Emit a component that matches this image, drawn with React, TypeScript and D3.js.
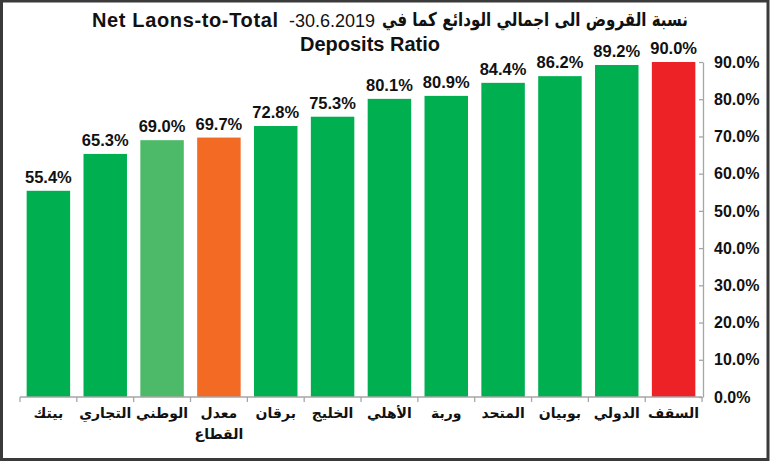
import { useEffect, useRef } from 'react'
import * as d3 from 'd3'

const banks = ['بيتك', 'التجاري', 'الوطني', 'معدل|القطاع', 'برقان', 'الخليج', 'الأهلي', 'وربة', 'المتحد', 'بوبيان', 'الدولي', 'السقف']
const ratios = [55.4, 65.3, 69.0, 69.7, 72.8, 75.3, 80.1, 80.9, 84.4, 86.2, 89.2, 90.0]
const barColors = ['#00b050', '#00b050', '#4dba69', '#f26a24', '#00b050', '#00b050', '#00b050', '#00b050', '#00b050', '#00b050', '#00b050', '#ed2227']
const yTicks = [0, 10, 20, 30, 40, 50, 60, 70, 80, 90]

const W = 770
const H = 462

export default function App() {
  const svgRef = useRef<SVGSVGElement>(null)

  useEffect(() => {
    if (!svgRef.current) return
    const svg = d3.select(svgRef.current)
    svg.selectAll('*').remove()

    const margin = { top: 62, right: 68, bottom: 65, left: 20 }
    const x = d3
      .scaleBand()
      .domain(banks)
      .range([margin.left, W - margin.right])
      .paddingInner(0.235)
      .paddingOuter(0.117)
    const y = d3.scaleLinear().domain([0, 90]).range([H - margin.bottom, margin.top])

    svg.append('rect').attr('width', W).attr('height', H).attr('fill', '#fff')

    // title
    const title = svg.append('g').attr('font-family', 'Liberation Sans, Arial, sans-serif').attr('fill', '#111')
    title.append('text').attr('x', 92).attr('y', 27).attr('font-size', 20).attr('font-weight', 'bold')
      .attr('textLength', 186).text('Net Laons-to-Total')
    title.append('text').attr('x', 289).attr('y', 27).attr('font-size', 18)
      .text('-30.6.2019')
    title.append('text').attr('x', 688).attr('y', 26).attr('font-size', 19).attr('font-weight', 'bold')
      .attr('text-anchor', 'end')
      .attr('font-family', 'DejaVu Sans, sans-serif')
      .attr('textLength', 306).attr('lengthAdjust', 'spacingAndGlyphs')
      .text('نسبة القروض الى اجمالي الودائع كما في')
    title.append('text').attr('x', 370).attr('y', 51).attr('font-size', 20).attr('font-weight', 'bold')
      .attr('text-anchor', 'middle').text('Deposits Ratio')

    // bars
    svg.append('g')
      .selectAll('rect')
      .data(ratios)
      .enter()
      .append('rect')
      .attr('x', (d, i) => x(banks[i])!)
      .attr('y', d => y(d))
      .attr('width', x.bandwidth())
      .attr('height', d => y(0) - y(d))
      .attr('fill', (d, i) => barColors[i])

    // value labels
    svg.append('g')
      .selectAll('text')
      .data(ratios)
      .enter()
      .append('text')
      .attr('x', (d, i) => x(banks[i])! + x.bandwidth() / 2)
      .attr('y', d => y(d) - 8)
      .attr('text-anchor', 'middle')
      .attr('font-family', 'Liberation Sans, Arial, sans-serif')
      .attr('font-size', 16.5)
      .attr('font-weight', 'bold')
      .attr('fill', '#111')
      .text(d => d.toFixed(1) + '%')

    // bottom axis
    const step = x.step()
    const bx = svg.append('g').attr('stroke', '#a6a6a6').attr('stroke-width', 1.3)
    bx.append('line').attr('x1', margin.left).attr('x2', W - margin.right).attr('y1', y(0)).attr('y2', y(0))
    d3.range(banks.length + 1).forEach(i => {
      const tx = margin.left + i * step
      bx.append('line').attr('x1', tx).attr('x2', tx).attr('y1', y(0)).attr('y2', y(0) + 5)
    })

    // category labels
    const cats = svg.append('g')
      .attr('font-family', 'DejaVu Sans, sans-serif')
      .attr('font-size', 14)
      .attr('font-weight', 'bold')
      .attr('fill', '#111')
      .attr('text-anchor', 'middle')
    banks.forEach(b => {
      const cx = x(b)! + x.bandwidth() / 2
      b.split('|').forEach((line, j) => {
        cats.append('text').attr('x', cx).attr('y', 418 + j * 21).text(line)
      })
    })

    // right axis
    const ax = svg.append('g')
      .attr('transform', `translate(${W - margin.right + 1},0)`)
      .call(d3.axisRight(y).tickValues(yTicks).tickSize(0).tickPadding(11).tickFormat(d => (+d).toFixed(1) + '%'))
    ax.select('.domain').attr('stroke', '#a6a6a6').attr('stroke-width', 1.3)
    ax.selectAll('.tick text')
      .attr('font-family', 'Liberation Sans, Arial, sans-serif')
      .attr('font-size', 16)
      .attr('font-weight', 'bold')
      .attr('fill', '#111')
    ax.selectAll('.tick')
      .append('line')
      .attr('x1', -4)
      .attr('x2', 0)
      .attr('stroke', '#a6a6a6')
      .attr('stroke-width', 1.3)

    // frame
    svg.append('rect')
      .attr('x', 1.5).attr('y', 1).attr('width', W - 3.5).attr('height', H - 3.5)
      .attr('fill', 'none').attr('stroke', '#3a3a3a').attr('stroke-width', 3)
  }, [])

  return (
    <svg
      ref={svgRef}
      width={W}
      height={H}
      style={{ position: 'absolute', left: 0, top: 0, display: 'block' }}
    />
  )
}
